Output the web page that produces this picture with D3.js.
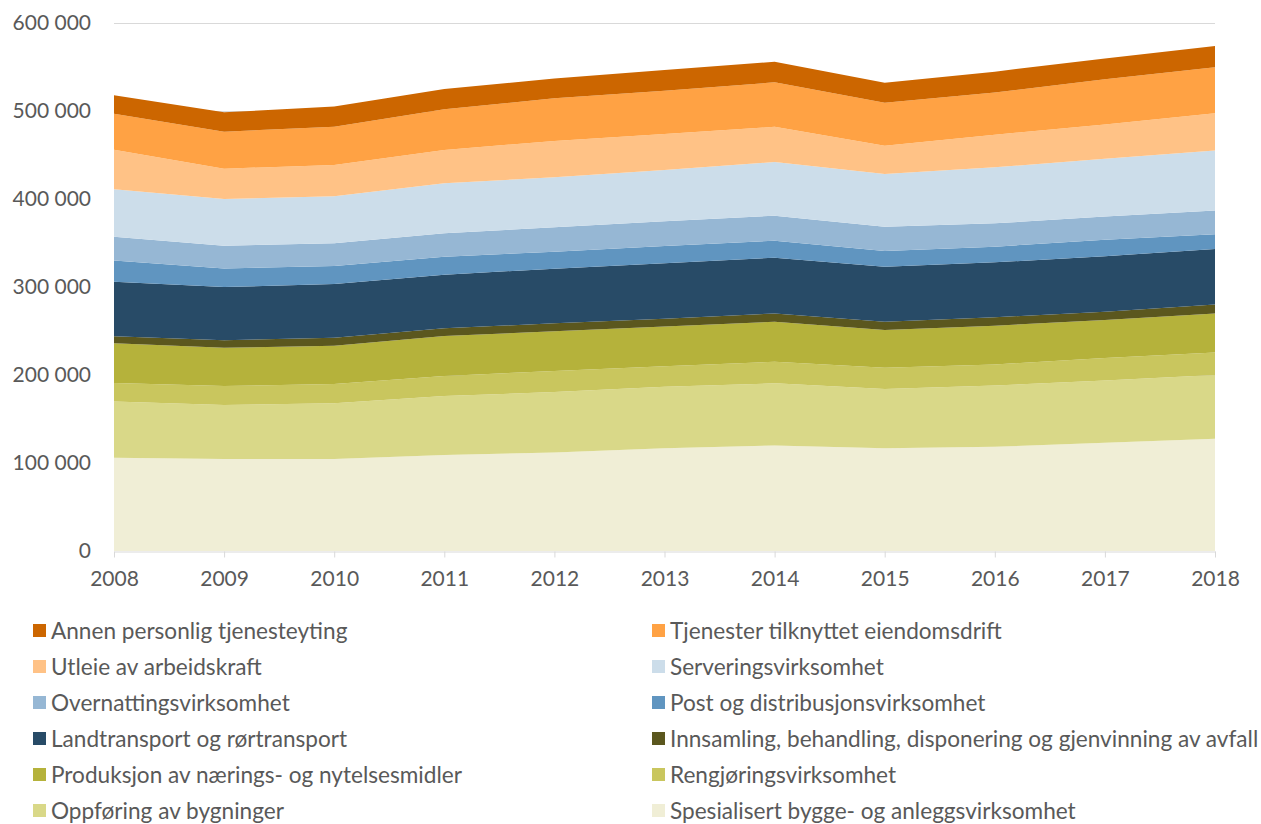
<!DOCTYPE html>
<html>
<head>
<meta charset="utf-8">
<script src="https://cdn.jsdelivr.net/npm/d3@7"></script>
<style>
  body { margin: 0; background: #fff; }
  text { font-family: Lato, "Open Sans", sans-serif; fill: #595959; }
</style>
</head>
<body>
<div class="chart"></div>
<script>
// years on the x axis
var years = [2008, 2009, 2010, 2011, 2012, 2013, 2014, 2015, 2016, 2017, 2018];

// series values (persons)
var spesialisert = [106000, 104500, 104500, 109000, 112000, 116700, 120000, 116700, 118500, 123000, 127600];
var oppforing = [64000, 61500, 63500, 67000, 68700, 70000, 70500, 67300, 69500, 70800, 72400];
var rengjoring = [21000, 21500, 21800, 23000, 23800, 23300, 24500, 24300, 24000, 25400, 25700];
var produksjon = [45000, 43500, 43500, 45300, 45100, 45000, 45600, 42700, 44000, 43300, 44300];
var innsamling = [8000, 8400, 9100, 8700, 9100, 9000, 9400, 9600, 9600, 9500, 10000];
var landtransport = [62000, 60600, 61000, 61000, 62100, 63000, 63300, 62400, 62400, 63000, 63300];
var post = [24000, 21000, 20600, 20500, 19200, 19600, 19300, 18000, 17800, 18800, 16700];
var overnatting = [27000, 26000, 25600, 26500, 27800, 28000, 28400, 27600, 26600, 26200, 27000];
var servering = [54000, 53000, 53400, 56800, 56800, 58400, 61000, 59800, 63600, 65600, 68200];
var utleie = [45000, 34500, 35600, 37900, 41400, 41000, 40000, 32200, 37000, 39200, 42300];
var eiendom = [41000, 42000, 43400, 46300, 48400, 49000, 50600, 48900, 48000, 51200, 52300];
var annen = [21000, 22000, 23000, 23000, 22600, 23700, 23400, 22500, 23700, 23800, 24200];

// series names, bottom of the stack first
var seriesNames = [
  "Spesialisert bygge- og anleggsvirksomhet",
  "Oppføring av bygninger",
  "Rengjøringsvirksomhet",
  "Produksjon av nærings- og nytelsesmidler",
  "Innsamling, behandling, disponering og gjenvinning av avfall",
  "Landtransport og rørtransport",
  "Post og distribusjonsvirksomhet",
  "Overnattingsvirksomhet",
  "Serveringsvirksomhet",
  "Utleie av arbeidskraft",
  "Tjenester tilknyttet eiendomsdrift",
  "Annen personlig tjenesteyting"
];
var seriesValues = [spesialisert, oppforing, rengjoring, produksjon, innsamling,
  landtransport, post, overnatting, servering, utleie, eiendom, annen];
var seriesColors = ["#F0EED6", "#D9D888", "#C9C65E", "#B5B23B", "#5B571E",
  "#284B67", "#6095C0", "#96B7D4", "#CCDDEA", "#FFC286", "#FFA244", "#CC6600"];

var yTicks = [0, 100000, 200000, 300000, 400000, 500000, 600000];

// svg container
var svgWidth = 1261;
var svgHeight = 824;

var svg = d3.select(".chart")
  .append("svg")
  .attr("width", svgWidth)
  .attr("height", svgHeight);

// scales
var xScale = d3.scaleLinear()
  .domain([2008, 2018])
  .range([114, 1215]);

var yScale = d3.scaleLinear()
  .domain([0, 600000])
  .range([551, 23]);

// build table for the stack
var table = years.map(function(yr, i) {
  var row = { year: yr };
  seriesNames.forEach(function(name, j) {
    row[name] = seriesValues[j][i];
  });
  return row;
});

var stacked = d3.stack().keys(seriesNames)(table);

// gridlines
svg.append("g")
  .selectAll("line")
  .data(yTicks.slice(1))
  .enter()
  .append("line")
  .attr("x1", xScale(2008))
  .attr("x2", xScale(2018))
  .attr("y1", d => yScale(d) + 0.5)
  .attr("y2", d => yScale(d) + 0.5)
  .attr("stroke", "#D9D9D9")
  .attr("stroke-width", 1);

// areas
var area = d3.area()
  .x(d => xScale(d.data.year))
  .y0(d => yScale(d[0]))
  .y1(d => yScale(d[1]));

svg.append("g")
  .selectAll("path")
  .data(stacked)
  .enter()
  .append("path")
  .attr("d", area)
  .attr("fill", (d, i) => seriesColors[i]);

// x axis
var bottomAxis = d3.axisBottom(xScale)
  .tickValues(years)
  .tickFormat(d3.format("d"))
  .tickSizeInner(6)
  .tickSizeOuter(0)
  .tickPadding(14);

var xAxis = svg.append("g")
  .attr("transform", `translate(0, ${yScale(0) + 0.5})`)
  .call(bottomAxis);

xAxis.select(".domain").attr("stroke", "#D9D9D9");
xAxis.selectAll(".tick line").attr("stroke", "#D9D9D9");
xAxis.selectAll("text")
  .attr("font-size", 21)
  .attr("font-family", "Lato, sans-serif")
  .attr("fill", "#595959");

// y axis labels
var fmt = d => d === 0 ? "0" : d3.format(",")(d).replace(/,/g, " ");

svg.append("g")
  .selectAll("text")
  .data(yTicks)
  .enter()
  .append("text")
  .attr("x", 91)
  .attr("y", d => yScale(d))
  .attr("dy", "0.35em")
  .attr("text-anchor", "end")
  .attr("font-size", 21)
  .text(fmt);

// legend, two columns, top of stack first
var legendOrder = d3.range(seriesNames.length).reverse();
var legend = svg.append("g")
  .selectAll("g")
  .data(legendOrder)
  .enter()
  .append("g")
  .attr("transform", (d, i) => `translate(${i % 2 === 0 ? 33 : 652}, ${630 + Math.floor(i / 2) * 36})`);

legend.append("rect")
  .attr("x", 0)
  .attr("y", -6)
  .attr("width", 13)
  .attr("height", 13)
  .attr("fill", d => seriesColors[d]);

legend.append("text")
  .attr("x", 18)
  .attr("y", 1)
  .attr("dy", "0.35em")
  .attr("font-size", 22.6)
  .text(d => seriesNames[d]);
</script>
</body>
</html>
